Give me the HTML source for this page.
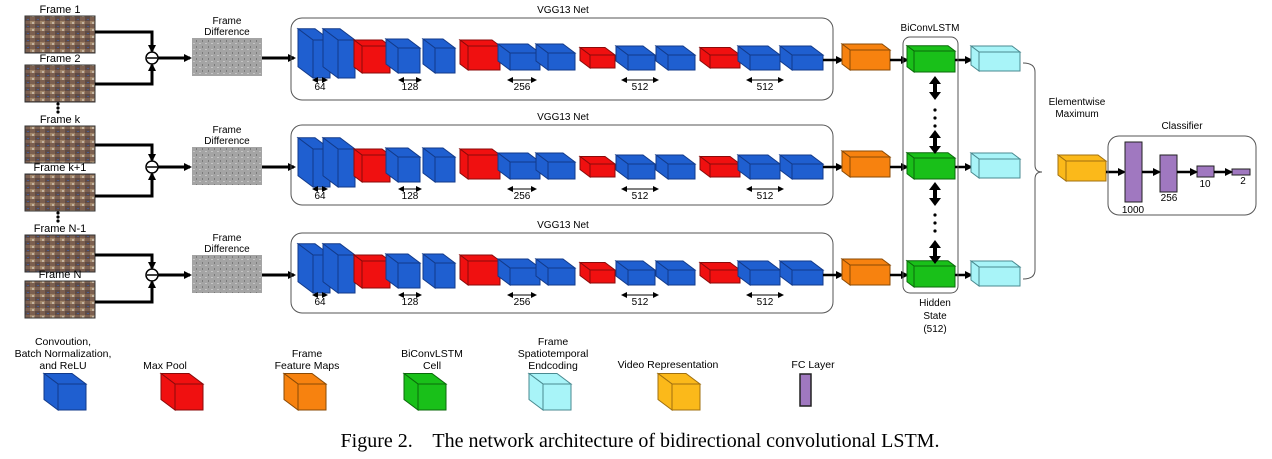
<!DOCTYPE html>
<html><head><meta charset="utf-8"><style>
html,body{margin:0;padding:0;background:#fff;width:1272px;height:459px;overflow:hidden}
svg text{font-family:"Liberation Sans",Arial,sans-serif}
</style></head><body>
<svg id="s" width="1272" height="459" viewBox="0 0 1272 459" xmlns="http://www.w3.org/2000/svg">
<defs>
<marker id="ah" markerWidth="8" markerHeight="8" refX="6" refY="4" orient="auto" markerUnits="userSpaceOnUse"><path d="M0,0 L8,4 L0,8 z" fill="#000"/></marker>
<marker id="sa" markerWidth="6" markerHeight="6" refX="5" refY="3" orient="auto-start-reverse" markerUnits="userSpaceOnUse"><path d="M0,0 L6,3 L0,6 z" fill="#000"/></marker>
<pattern id="fr" width="10" height="7" patternUnits="userSpaceOnUse"><rect width="10" height="7" fill="#7c6050"/><rect x="0" y="0" width="5" height="3" fill="#a08468"/><rect x="5" y="3" width="5" height="4" fill="#5e4a44"/><rect x="2" y="1" width="2" height="2" fill="#c4b4a2"/><rect x="7" y="5" width="2" height="1" fill="#4a5a8a"/></pattern>
<pattern id="df" width="6" height="6" patternUnits="userSpaceOnUse"><rect width="6" height="6" fill="#a4a4a4"/><rect x="1" y="1" width="2" height="1" fill="#c4c4c4"/><rect x="4" y="4" width="1" height="2" fill="#7a7a7a"/></pattern>
</defs>
<g id="g"></g>
<text x="640" y="447" text-anchor="middle" font-size="20" style="font-family:'Liberation Serif',serif">Figure 2.&#160;&#160;&#160; The network architecture of bidirectional convolutional LSTM.</text>
</svg>
<script>
var g=document.getElementById('g'),h='';
function cube(fx,fy,fw,fh,d,c,dk){var dx=d,dy=d*0.75;
h+='<polygon points="'+(fx-dx)+','+(fy-dy)+' '+(fx+fw-dx)+','+(fy-dy)+' '+(fx+fw)+','+fy+' '+fx+','+fy+'" fill="'+c+'" stroke="'+dk+'" stroke-width="1"/>';
h+='<polygon points="'+(fx-dx)+','+(fy-dy)+' '+fx+','+fy+' '+fx+','+(fy+fh)+' '+(fx-dx)+','+(fy+fh-dy)+'" fill="'+c+'" stroke="'+dk+'" stroke-width="1"/>';
h+='<rect x="'+fx+'" y="'+fy+'" width="'+fw+'" height="'+fh+'" fill="'+c+'" stroke="'+dk+'" stroke-width="1"/>';}
function ln(pts,arrow,w){h+='<polyline points="'+pts+'" fill="none" stroke="#000" stroke-width="'+(w||3)+'"'+(arrow?' marker-end="url(#ah)"':'')+'/>';}
function tx(x,y,s,fs,a){h+='<text x="'+x+'" y="'+y+'" font-size="'+(fs||11)+'" text-anchor="'+(a||'middle')+'">'+s+'</text>';}
var B='#1f5fd0',BD='#123a8a',R='#f01010',RD='#8a0a0a';
var blocks=[[313,40,17,38,15,B],[338,40,17,38,15,B],[362,46,28,27,8,R],[398,48,22,25,12,B],[435,48,20,25,12,B],[468,46,32,24,8,R],[510,53,30,17,12,B],[548,53,27,17,12,B],[590,55,25,13,10,R],[628,55,27,15,12,B],[668,55,27,15,12,B],[710,55,30,13,10,R],[750,55,30,15,12,B],[792,55,31,15,12,B]];
var rows=[0,109,215];
var fr=[[16,'Frame 1'],[65,'Frame 2'],[126,'Frame k'],[174,'Frame k+1'],[235,'Frame N-1'],[281,'Frame N']];
fr.forEach(function(f){h+='<rect x="25" y="'+f[0]+'" width="70" height="37" fill="url(#fr)" stroke="#333" stroke-width="1"/>';tx(60,f[0]-3,f[1],11);});
[[104],[213]].forEach(function(d){for(var i=0;i<3;i++)h+='<circle cx="58" cy="'+(d[0]+i*4)+'" r="1.6" fill="#000"/>';});
var pairs=[[32,84,58],[145,196,167],[255,302,275]];
pairs.forEach(function(p,i){
 ln('95,'+p[0]+' 152,'+p[0]+' 152,'+(p[2]-7),true);
 ln('95,'+p[1]+' 152,'+p[1]+' 152,'+(p[2]+7),true);
 h+='<circle cx="152" cy="'+p[2]+'" r="6" fill="#fff" stroke="#000" stroke-width="1.5"/><line x1="147" y1="'+p[2]+'" x2="157" y2="'+p[2]+'" stroke="#000" stroke-width="1.5"/>';
 ln('158,'+p[2]+' 190,'+p[2],true);
 var fy=p[2]-20;
 h+='<rect x="192" y="'+fy+'" width="70" height="38" fill="url(#df)"/>';
 tx(227,fy-14,'Frame',10);tx(227,fy-3,'Difference',10);
 ln('262,'+p[2]+' 294,'+p[2],true);
});
rows.forEach(function(o,i){
 var by=[18,125,233][i];
 h+='<rect x="291" y="'+by+'" width="542" height="'+(i==0?82:80)+'" rx="11" fill="none" stroke="#555" stroke-width="1"/>';
 tx(563,by-5,'VGG13 Net',10);
 blocks.forEach(function(b){cube(b[0],b[1]+o,b[2],b[3],b[4],b[5],b[5]==B?BD:RD);});
 [[320,14,'64'],[410,22,'128'],[522,28,'256'],[640,36,'512'],[765,36,'512']].forEach(function(l){
  h+='<line x1="'+(l[0]-l[1]/2)+'" y1="'+(80+o)+'" x2="'+(l[0]+l[1]/2)+'" y2="'+(80+o)+'" stroke="#000" stroke-width="1" marker-start="url(#sa)" marker-end="url(#sa)"/>';
  tx(l[0],90+o,l[2],10);});
 var cy=[60,167,275][i];
 ln('823,'+cy+' 842,'+cy,true,2.5);
 cube(850,cy-10,40,20,8,'#f7820f','#8a4a05');
 ln('890,'+cy+' 907,'+cy,true,2.5);
 cube(914,cy-9,41,21,7,'#19c019','#0a6a0a');
 ln('955,'+cy+' 971,'+cy,true,2.5);
 cube(979,cy-8,41,19,8,'#a8f4f8','#4a8a90');
});
h+='<rect x="903" y="37" width="55" height="256" rx="7" fill="none" stroke="#555" stroke-width="1"/>';
tx(930,31,'BiConvLSTM',10);
function darr(y1,y2){var x=935;h+='<polygon points="'+x+','+y1+' '+(x+6)+','+(y1+8)+' '+(x+2)+','+(y1+8)+' '+(x+2)+','+(y2-8)+' '+(x+6)+','+(y2-8)+' '+x+','+y2+' '+(x-6)+','+(y2-8)+' '+(x-2)+','+(y2-8)+' '+(x-2)+','+(y1+8)+' '+(x-6)+','+(y1+8)+'" fill="#000"/>';}
darr(76,100);darr(130,154);darr(182,206);darr(240,264);
[110,118,126,215,223,231].forEach(function(y){h+='<circle cx="935" cy="'+y+'" r="1.6" fill="#000"/>';});
tx(935,306,'Hidden',10);tx(935,319,'State',10);tx(935,332,'(512)',10);
h+='<path d="M1023,63 Q1035,63 1035,72 L1035,165 Q1035,172 1042,172 Q1035,172 1035,179 L1035,270 Q1035,279 1023,279" fill="none" stroke="#555" stroke-width="1"/>';
tx(1077,105,'Elementwise',10);tx(1077,117,'Maximum',10);
cube(1066,161,40,20,8,'#fbb91a','#a07010');
ln('1106,172 1124,172',true,2.5);
h+='<rect x="1108" y="136" width="148" height="79" rx="11" fill="none" stroke="#555" stroke-width="1"/>';
tx(1182,129,'Classifier',10);
[[1125,142,17,60],[1160,155,17,37],[1197,166,17,11],[1232,169,18,6]].forEach(function(p){h+='<rect x="'+p[0]+'" y="'+p[1]+'" width="'+p[2]+'" height="'+p[3]+'" fill="#a078c0" stroke="#222" stroke-width="1"/>';});
ln('1142,172 1159,172',true,2.5);ln('1177,172 1196,172',true,2.5);ln('1214,172 1231,172',true,2.5);
tx(1133,213,'1000',10);tx(1169,201,'256',10);tx(1205,187,'10',10);tx(1243,184,'2',10);
// legend
tx(63,345,'Convoution,',10.5);tx(63,357,'Batch Normalization,',10.5);tx(63,369,'and ReLU',10.5);
tx(165,369,'Max Pool',10.5);
tx(307,357,'Frame',10.5);tx(307,369,'Feature Maps',10.5);
tx(432,357,'BiConvLSTM',10.5);tx(432,369,'Cell',10.5);
tx(553,345,'Frame',10.5);tx(553,357,'Spatiotemporal',10.5);tx(553,369,'Endcoding',10.5);
tx(668,368,'Video Representation',10.5);tx(813,368,'FC Layer',10.5);
var L=[[58,B,BD],[175,R,RD],[298,'#f7820f','#8a4a05'],[418,'#19c019','#0a6a0a'],[543,'#a8f4f8','#4a8a90'],[672,'#fbb91a','#a07010']];
L.forEach(function(l){cube(l[0],384,28,26,14,l[1],l[2]);});
h+='<rect x="800" y="374" width="11" height="32" fill="#a078c0" stroke="#222" stroke-width="1.5"/>';
g.innerHTML=h;
</script>
</body></html>
